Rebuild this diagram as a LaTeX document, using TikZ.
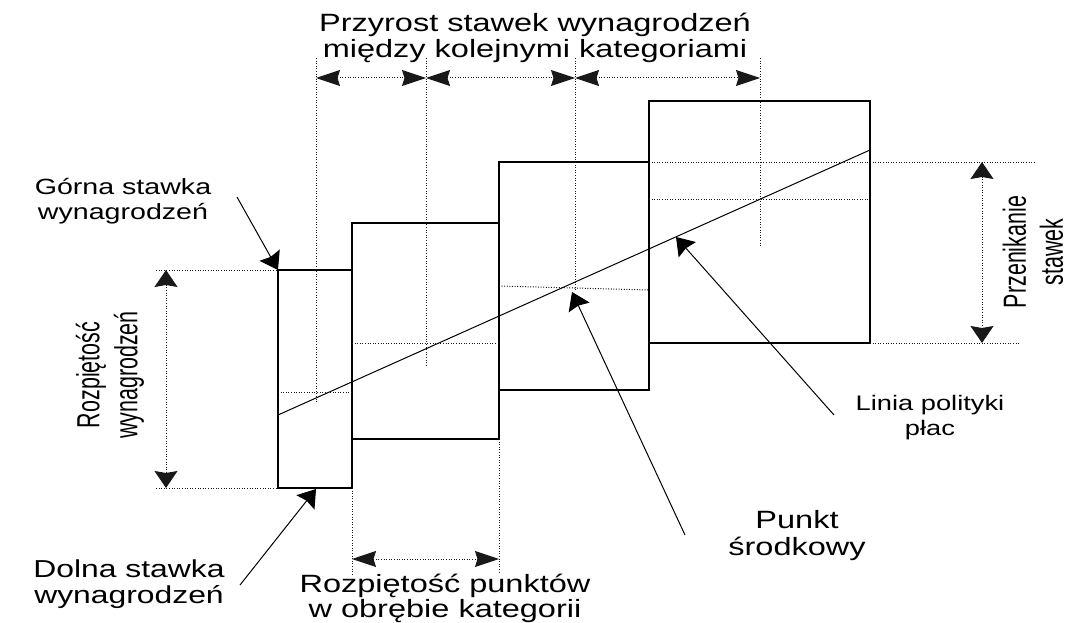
\documentclass[tikz,border=0pt]{standalone}
\usepackage{fontspec}
\setmainfont{Liberation Sans}
\newfontfamily\widefont{Liberation Sans}[FakeStretch=1.3]
\newfontfamily\narrowfont{Liberation Sans}[FakeStretch=0.67]
\usetikzlibrary{arrows.meta}
\tikzset{
  grade/.style={draw, line width=1.2pt},
  guide/.style={line width=1pt, dash pattern=on 1pt off 1.6pt, black!90},
  htip/.tip={Stealth[length=24pt,width=16pt,inset=2.5pt]},
  vtip/.tip={Stealth[length=17pt,width=23pt,inset=2pt]},
  hspan/.style={guide, htip-htip},
  vspan/.style={guide, vtip-vtip},
  pointer/.style={line width=1pt, -vtip},
  lbl/.style={align=center, inner sep=0pt, font=\widefont},
  vlbl/.style={align=center, inner sep=0pt, rotate=90, font=\narrowfont}
}
\begin{document}
\begin{tikzpicture}[x=1pt,y=-1pt]
\useasboundingbox (0,0) rectangle (1070,623);

% pay grades
\coordinate (g1a) at (278,270); \coordinate (g1b) at (352,488);
\coordinate (g2a) at (352,223); \coordinate (g2b) at (499,439);
\coordinate (g3a) at (499,162); \coordinate (g3b) at (649,390);
\coordinate (g4a) at (649,101); \coordinate (g4b) at (870,343);
\draw[grade] (g1a) rectangle (g1b);
\draw[grade] (g2a) rectangle (g2b);
\draw[grade] (g3a) rectangle (g3b);
\draw[grade] (g4a) rectangle (g4b);

% pay policy line
\coordinate (pl0) at (278,415); \coordinate (pl1) at (870,150);
\draw[line width=1pt] (pl0) -- (pl1);

% midpoints of the grades
\draw[guide] (278,392) -- (352,392);
\draw[guide] (352,343) -- (499,343);
\draw[guide] (499,286) -- (649,290);
\draw[guide] (649,199) -- (870,199);

% vertical guides to the top dimension
\coordinate (m1) at (316,58); \coordinate (m2) at (426,58);
\coordinate (m3) at (575,58); \coordinate (m4) at (760,58);
\draw[guide] (m1) -- (316,402);
\draw[guide] (m2) -- (426,367);
\draw[guide] (m3) -- (575,292);
\draw[guide] (m4) -- (760,247);
\coordinate (d1) at (316,78); \coordinate (d2) at (426,78);
\coordinate (d3) at (575,78); \coordinate (d4) at (760,78);
\draw[hspan] (d1) -- (d2);
\draw[hspan] (d2) -- (d3);
\draw[hspan] (d3) -- (d4);

% range of a grade
\draw[guide] (156,270) -- (g1a);
\draw[guide] (156,488) -- (278,488);
\coordinate (r1) at (166,270); \coordinate (r2) at (166,488);
\draw[vspan] (r1) -- (r2);

% overlap of grades
\draw[guide] (649,162) -- (1035,162);
\draw[guide] (870,343) -- (1020,343);
\coordinate (o1) at (982,162); \coordinate (o2) at (982,343);
\draw[vspan] (o1) -- (o2);

% spread of points within a grade
\draw[guide] (352,488) -- (352,574);
\draw[guide] (499,439) -- (499,574);
\coordinate (w1) at (352,559); \coordinate (w2) at (499,559);
\draw[hspan] (w1) -- (w2);

% labels
\node[lbl, font=\widefont\fontsize{25}{26}\selectfont] (incr) at (535,38)
  {Przyrost stawek wynagrodzeń\\między kolejnymi kategoriami};
\node[lbl, font=\widefont\fontsize{22}{25}\selectfont] (upper) at (123,201)
  {Górna stawka\\wynagrodzeń};
\node[lbl, font=\widefont\fontsize{24.5}{26}\selectfont] (lower) at (129,584)
  {Dolna stawka\\wynagrodzeń};
\node[lbl, font=\widefont\fontsize{25}{25}\selectfont] (spread) at (445,598)
  {Rozpiętość punktów\\w obrębie kategorii};
\node[lbl, font=\widefont\fontsize{21}{25}\selectfont] (policy) at (930,418)
  {Linia polityki\\płac};
\node[lbl, font=\widefont\fontsize{25}{27}\selectfont] (mid) at (797,536)
  {Punkt\\środkowy};
\node[vlbl, font=\narrowfont\fontsize{32}{38}\selectfont] (range) at (110,375)
  {Rozpiętość\\wynagrodzeń};
\node[vlbl, font=\narrowfont\fontsize{32}{37}\selectfont] (overlap) at (1033,252)
  {Przenikanie\\stawek};

% pointers
\coordinate (pu) at (237,197);
\coordinate (pd) at (240,585);
\coordinate (pm) at (685,535);
\coordinate (pp) at (834,415);
\coordinate (tm) at (572,292);
\coordinate (tp) at (676,237);
\coordinate (td) at (316,489);
\draw[pointer] (pu) -- (g1a);
\draw[pointer] (pd) -- (td);
\draw[pointer] (pm) -- (tm);
\draw[pointer] (pp) -- (tp);
\end{tikzpicture}
\end{document}
